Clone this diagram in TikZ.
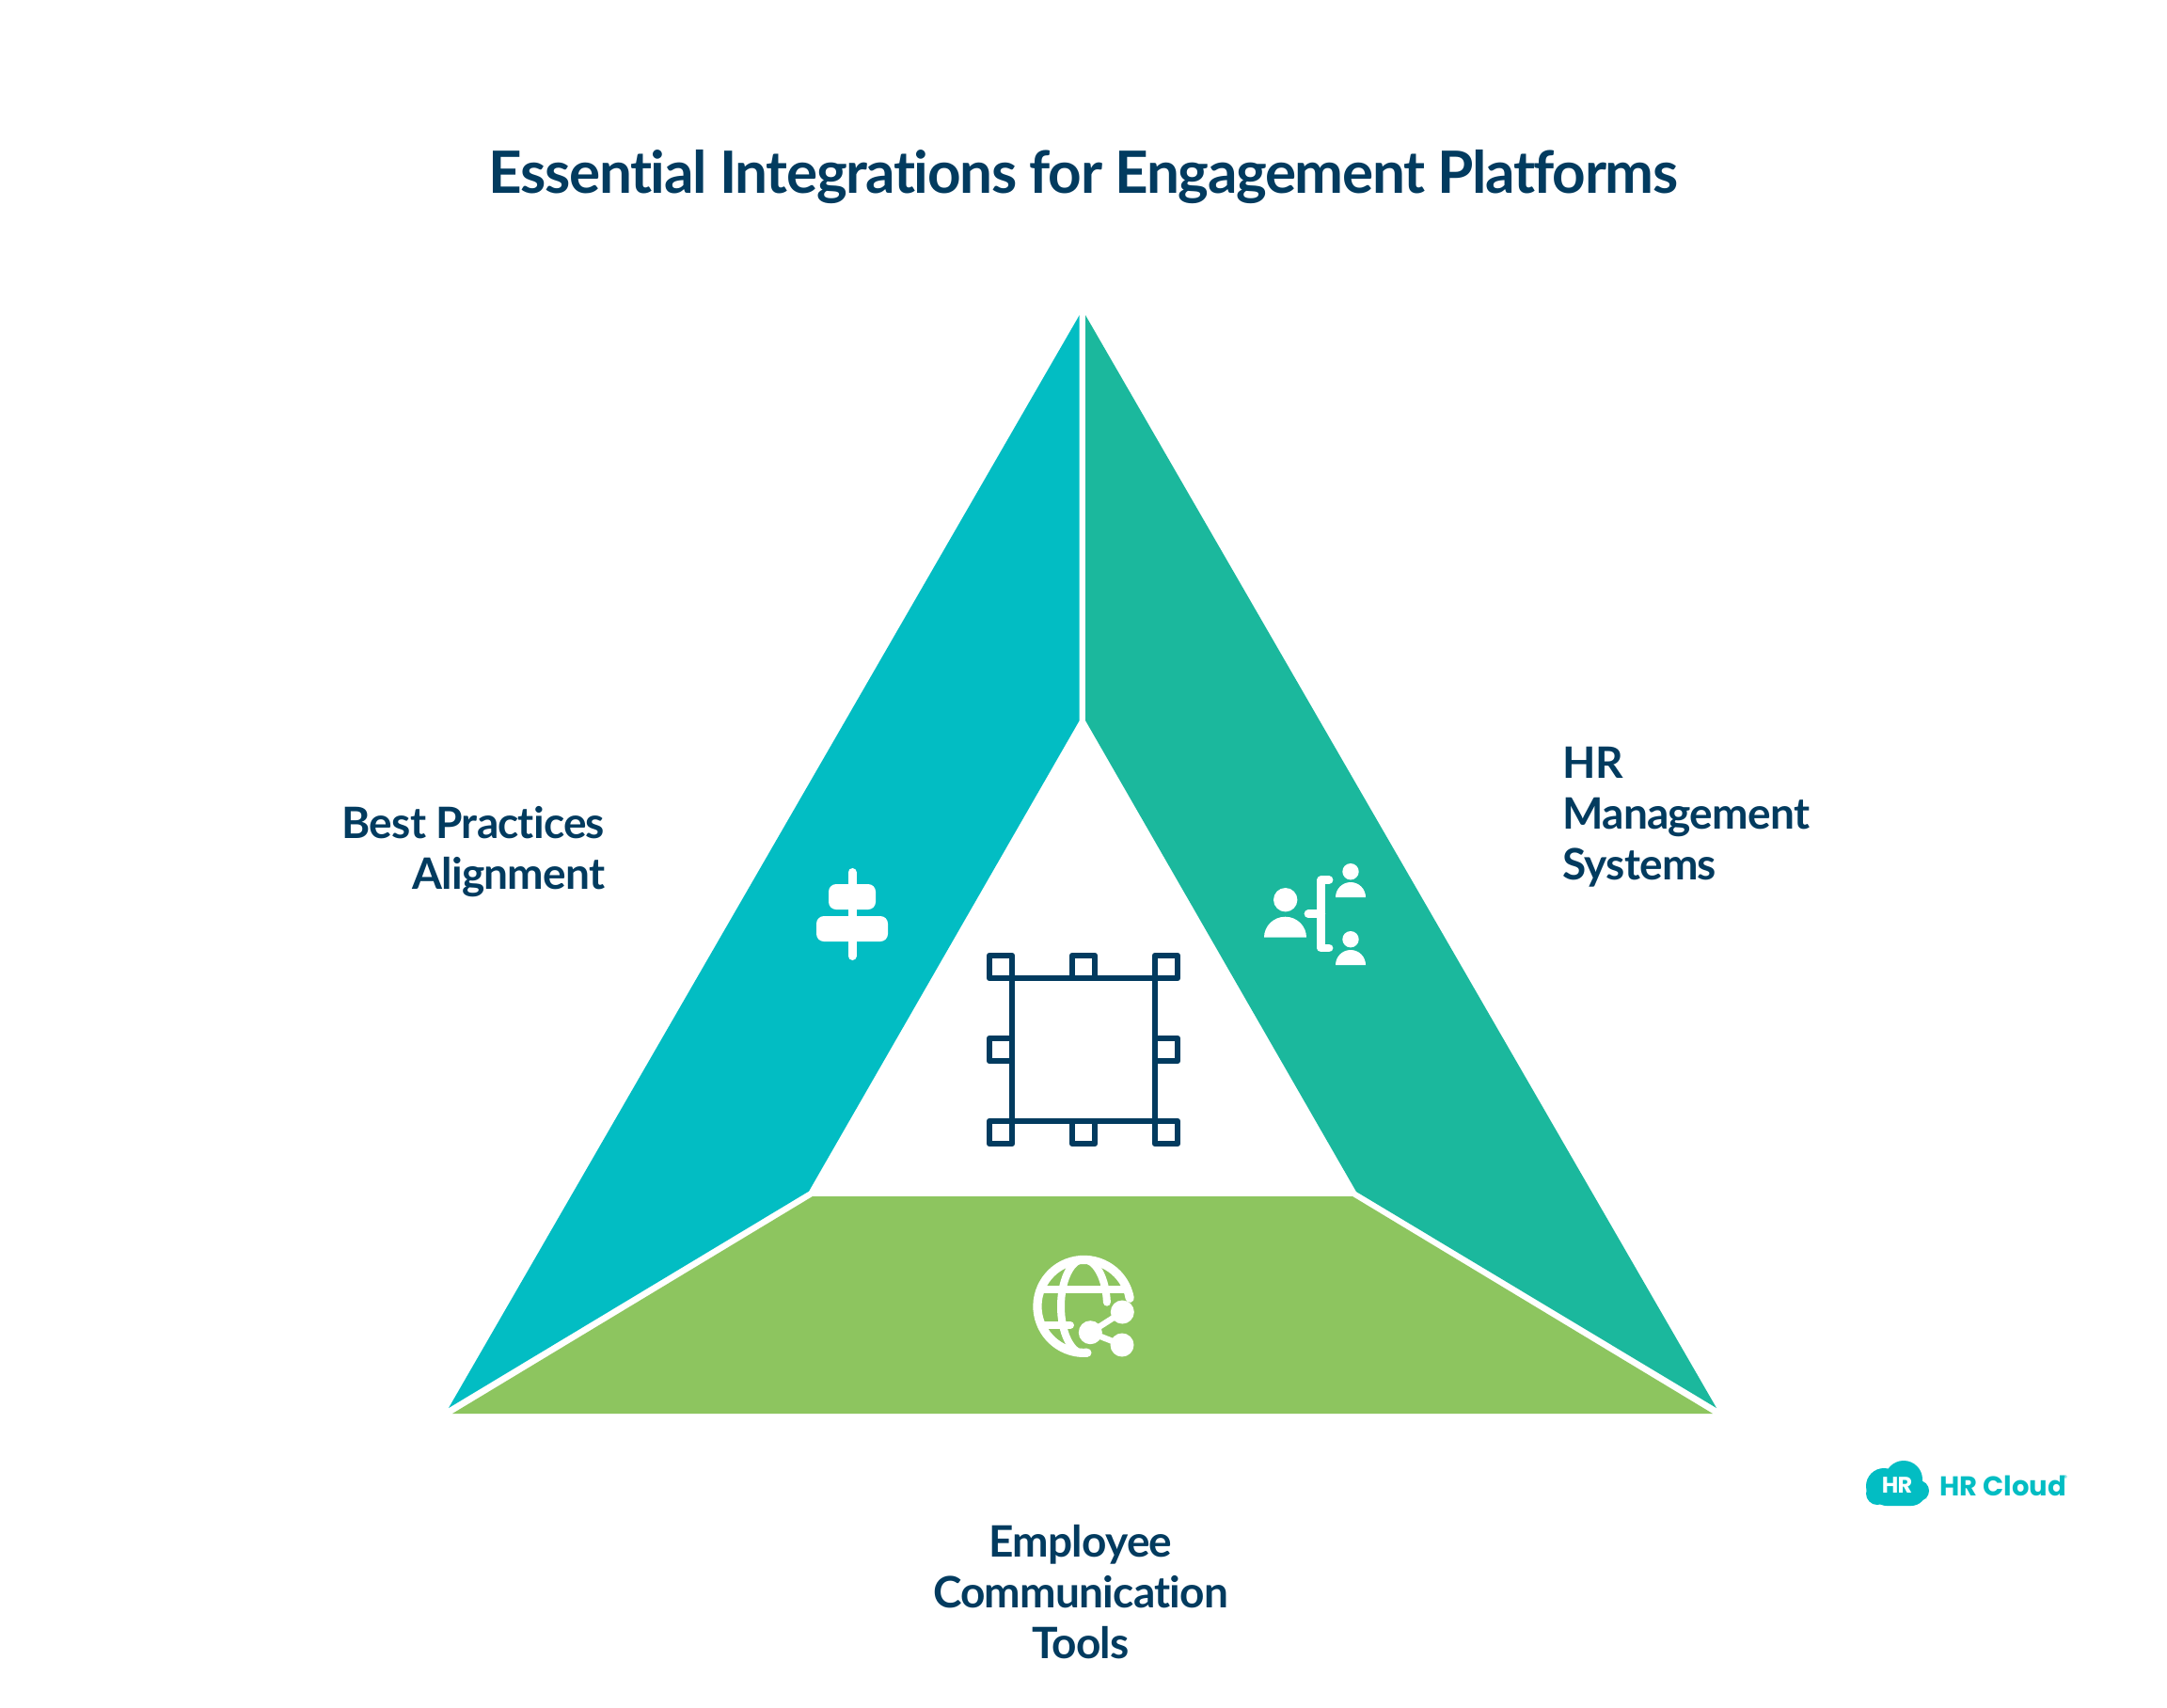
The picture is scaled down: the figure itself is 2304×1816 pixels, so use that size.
\documentclass[tikz,border=0pt]{standalone}
\usepackage{fontspec}
\setmainfont{Lato}[Ligatures=NoCommon]
\newfontfamily\titlefont{Lato}[Ligatures=NoCommon,LetterSpace=-2.3]
\newfontfamily\labelfont{Lato}[Ligatures=NoCommon,LetterSpace=-1.7]
\newfontfamily\logofont{Poppins}[LetterSpace=-3]
\newfontfamily\logowordfont{Poppins}
\definecolor{navy}{HTML}{023B5F}
\definecolor{cyanteal}{HTML}{02BDC3}
\definecolor{greenteal}{HTML}{1BB89D}
\definecolor{leaf}{HTML}{8DC55F}
\tikzset{
  wedge/.style={draw=none},
  lbl/.style={font=\labelfont\bfseries\fontsize{23}{27}\selectfont,text=navy,inner sep=0pt},
  icon/.style={fill=white,draw=none},
  iline/.style={draw=white,line cap=round,line join=round,fill=none},
  handle/.style={draw=navy,line width=3.2pt,line join=round,fill=none},
}
\begin{document}
\begin{tikzpicture}[x=0.5pt,y=-0.5pt]
\useasboundingbox (0,0) rectangle (2304,1816);
\fill[white] (0,0) rectangle (2304,1816);
% wedges
\fill[wedge,cyanteal] (1147.7,335) -- (1147.7,766) -- (860,1266.6) -- (477,1497) -- cycle;
\fill[wedge,greenteal] (1154,335) -- (1154,766) -- (1442,1267) -- (1825,1497) -- cycle;
\fill[wedge,leaf] (864,1272) -- (1438,1272) -- (1821,1503) -- (481,1503) -- cycle;
% central frame icon
\draw[handle] (1076,1040) rectangle (1228,1192);
\foreach \hx/\hy in {1052/1016,1140/1016,1228/1016,1052/1104,1228/1104,1052/1192,1140/1192,1228/1192}
  \draw[handle] (\hx,\hy) rectangle ++(24,24);
% align icon
\draw[iline,line width=4.5pt] (906,927.5) -- (906,1016.5);
\fill[icon,rounded corners=4pt] (881,940) rectangle (931,967);
\fill[icon,rounded corners=4pt] (868,974) rectangle (944,1001);
% people icon
\fill[icon] (1366.7,956.7) circle[radius=12.7];
\fill[icon] (1344,996.7) arc[start angle=180,end angle=360,x radius=22.5,y radius=22] -- cycle;
\fill[icon] (1436,926.7) circle[radius=8.7];
\fill[icon] (1420,954) arc[start angle=180,end angle=360,x radius=16,y radius=16] -- cycle;
\fill[icon] (1436,998.7) circle[radius=8.7];
\fill[icon] (1420,1026) arc[start angle=180,end angle=360,x radius=16,y radius=16] -- cycle;
\draw[iline,line width=4.4pt] (1413,935.7) -- (1404.7,935.7) -- (1404.7,1008) -- (1413,1008);
\draw[iline,line width=4.4pt] (1391,971.7) -- (1404.7,971.7);
% globe icon
\draw[iline,line width=4.6pt] (1201.2,1380.3) arc[start angle=-10,end angle=-274,radius=49.5];
\draw[iline,line width=4pt] (1152,1339) arc[start angle=-90,end angle=-270,x radius=24,y radius=50];
\draw[iline,line width=4pt] (1152,1339) arc[start angle=-90,end angle=-5,x radius=25,y radius=50];
\draw[iline,line width=4pt] (1106,1371) -- (1198,1371);
\draw[iline,line width=4pt] (1108,1409) -- (1138,1409);
\draw[iline,line width=3.2pt] (1159.3,1416.7) -- (1193.3,1395);
\draw[iline,line width=3.2pt] (1159.3,1416.7) -- (1193,1430);
\fill[icon] (1193.3,1395) circle[radius=12.5];
\fill[icon] (1159.3,1416.7) circle[radius=12.5];
\fill[icon] (1193,1430) circle[radius=12.5];
% title and labels
\node[lbl,font=\titlefont\bfseries\fontsize{31}{36}\selectfont,anchor=base] (title) at (1152,205.5) {Essential Integrations for Engagement Platforms};
\node[lbl,align=right,anchor=east] (best) at (643.5,905.5) {Best Practices\\Alignment};
\node[lbl,align=left,anchor=west] (hr) at (1661,869) {HR\\Management\\Systems};
\node[lbl,align=center,anchor=center] (emp) at (1149,1693) {Employee\\Communication\\Tools};
% logo
\fill[cyanteal,rounded corners=8pt] (1990,1578) rectangle (2048,1601);
\fill[cyanteal] (2003,1580) circle[radius=19];
\fill[cyanteal] (2024,1573) circle[radius=20];
\fill[cyanteal] (2040,1585) circle[radius=11];
\fill[cyanteal] (1996,1588) circle[radius=12];
\node[inner sep=0pt,text=white,anchor=center,font=\logofont\bfseries\fontsize{12}{14}\selectfont] (logoa) at (2017,1579) {HR};
\node[inner sep=0pt,text=cyanteal,anchor=base west,font=\logowordfont\bfseries\fontsize{14.5}{16}\selectfont] (logob) at (2062,1590) {HR Cloud};
\node[inner sep=0pt,text=cyanteal,anchor=center,font=\logowordfont\fontsize{4}{5}\selectfont] (logoc) at (2196,1572) {®};
\end{tikzpicture}
\end{document}
